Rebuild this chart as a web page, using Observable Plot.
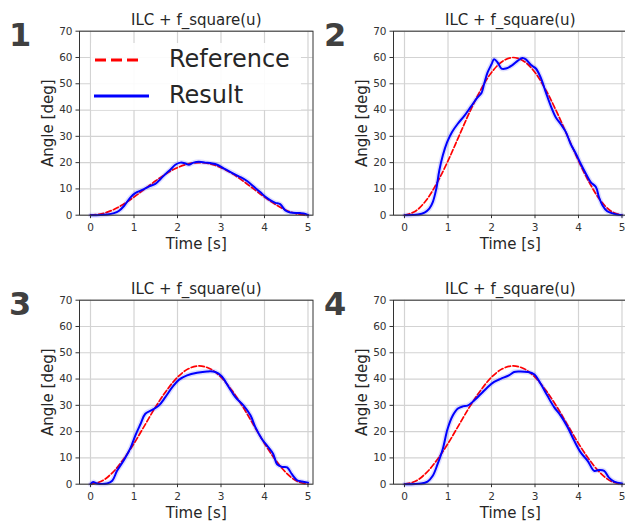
<!DOCTYPE html>
<html><head><meta charset="utf-8">
<script src="https://cdn.jsdelivr.net/npm/d3@7"></script>
<script src="https://cdn.jsdelivr.net/npm/@observablehq/plot@0.6"></script>
<style>
html,body{margin:0;padding:0;background:#fff;overflow:hidden}
#root{position:relative;width:625px;height:525px;overflow:hidden;font-family:"DejaVu Sans",sans-serif}
.panel{position:absolute}
#overlay{position:absolute;left:0;top:0;pointer-events:none}
</style></head><body><div id="root"></div>
<script>
// ---- data ----
const titleText = "ILC + f_square(u)";
const xLabel = "Time [s]";
const yLabel = "Angle [deg]";
const panelNumbers = ["1", "2", "3", "4"];
const legendLabels = ["Reference", "Result"];
const xTicks = [0, 1, 2, 3, 4, 5];
const yTicks = [0, 10, 20, 30, 40, 50, 60, 70];

const refTime = [0, 0.25, 0.5, 0.75, 1, 1.25, 1.5, 1.75, 2, 2.25, 2.5, 2.75, 3, 3.25, 3.5, 3.75, 4, 4.25, 4.5, 4.75, 5];
const ref1 = [0, 0.5, 1.9, 4.1, 6.9, 10, 13.1, 15.9, 18.1, 19.5, 20, 19.5, 18.1, 15.9, 13.1, 10, 6.9, 4.1, 1.9, 0.5, 0];
const ref2 = [0, 1.5, 5.7, 12.4, 20.7, 30, 39.3, 47.6, 54.3, 58.5, 60, 58.5, 54.3, 47.6, 39.3, 30, 20.7, 12.4, 5.7, 1.5, 0];
const ref3 = [0, 1.1, 4.3, 9.3, 15.5, 22.5, 29.5, 35.7, 40.7, 43.9, 45, 43.9, 40.7, 35.7, 29.5, 22.5, 15.5, 9.3, 4.3, 1.1, 0];
const ref4 = [0, 1.1, 4.3, 9.3, 15.5, 22.5, 29.5, 35.7, 40.7, 43.9, 45, 43.9, 40.7, 35.7, 29.5, 22.5, 15.5, 9.3, 4.3, 1.1, 0];

const res1T = [0, 0.38, 0.54, 0.65, 0.77, 0.92, 1.03, 1.19, 1.34, 1.49, 1.61, 1.72, 1.84, 1.95, 2.07, 2.18, 2.26, 2.37, 2.49, 2.64, 2.79, 2.91, 3.06, 3.22, 3.41, 3.6, 3.75, 3.9, 4.02, 4.13, 4.25, 4.36, 4.48, 4.59, 4.82, 4.94, 5.0];
const res1V = [0, 0.3, 0.8, 1.6, 3.5, 6.8, 8.4, 9.6, 10.9, 11.9, 13.8, 15.6, 17.4, 19.2, 20, 19.7, 19.2, 20, 20.3, 20, 19.7, 19.2, 17.8, 16.4, 14.8, 13, 10.9, 8.8, 7, 5.7, 4.7, 4.2, 1.8, 1, 0.8, 0.5, 0];

const res2T = [0, 0.31, 0.46, 0.57, 0.65, 0.73, 0.8, 0.88, 0.98, 1.09, 1.22, 1.38, 1.53, 1.68, 1.77, 1.83, 1.91, 2.0, 2.06, 2.14, 2.23, 2.33, 2.48, 2.6, 2.71, 2.79, 2.91, 3.02, 3.13, 3.25, 3.36, 3.48, 3.59, 3.71, 3.82, 3.94, 4.05, 4.17, 4.28, 4.4, 4.47, 4.55, 4.66, 4.82, 5.0];
const res2V = [0, 0.25, 1, 2.5, 5, 10, 17, 22.7, 27.8, 31.6, 34.7, 37.9, 41.4, 44.8, 46.5, 49.9, 54.3, 57.4, 59.3, 58.1, 55.8, 55.8, 57.1, 58.7, 59.8, 59.3, 57.1, 55.8, 52.4, 46.7, 41.7, 37.2, 34.7, 31.6, 27.1, 23.4, 19.6, 15.8, 12.6, 10.7, 6.9, 3.8, 1.5, 0.5, 0];

const res3T = [0, 0.06, 0.15, 0.38, 0.5, 0.61, 0.77, 0.92, 1.03, 1.15, 1.26, 1.42, 1.57, 1.72, 1.88, 2.03, 2.22, 2.45, 2.68, 2.87, 3.02, 3.18, 3.33, 3.52, 3.68, 3.79, 3.94, 4.1, 4.2, 4.29, 4.4, 4.52, 4.63, 4.75, 4.86, 5.0];
const res3V = [0, 0.8, 0.25, 0.25, 1.3, 5.1, 9.2, 13.8, 18.5, 22.9, 26.8, 28.3, 29.9, 33.1, 36.9, 39.7, 41.4, 42.4, 42.9, 42.7, 41, 36.9, 33.1, 29.9, 26.1, 21.7, 17.2, 13.8, 11.5, 7.6, 6.6, 6.4, 3.8, 1.5, 1, 0.6];

const res4T = [0, 0.38, 0.53, 0.65, 0.76, 0.88, 0.99, 1.11, 1.22, 1.34, 1.45, 1.6, 1.76, 1.91, 2.06, 2.21, 2.4, 2.52, 2.63, 2.83, 2.98, 3.13, 3.28, 3.44, 3.59, 3.75, 3.9, 4.05, 4.21, 4.36, 4.47, 4.59, 4.7, 4.82, 5.0];
const res4V = [0, 0.25, 1, 3.2, 7.6, 13.4, 21, 26.1, 28.7, 29.6, 29.9, 31.8, 34.4, 36.9, 38.9, 40.1, 41.4, 42.7, 42.9, 42.7, 41.8, 38.2, 33.8, 29.3, 26.1, 21.7, 16.6, 12.1, 8.9, 5.1, 5.4, 5.1, 2.5, 1, 0.25];

// ---- layout ----
const panels = [
  {ref: ref1, resT: res1T, resV: res1V, left: 0, top: 0},
  {ref: ref2, resT: res2T, resV: res2V, left: 313.5, top: 0},
  {ref: ref3, resT: res3T, resV: res3V, left: 0, top: 268.6},
  {ref: ref4, resT: res4T, resV: res4V, left: 313.5, top: 268.6}
];
const REF_COLOR = "#ff0000", RES_COLOR = "#0000ff";
const FONT = "DejaVu Sans";

const root = document.getElementById("root");

function makePanel(p) {
  const refData = refTime.map((t, i) => ({t, v: p.ref[i]}));
  const resData = p.resT.map((t, i) => ({t, v: p.resV[i]}));
  const chart = Plot.plot({
    width: 316, height: 260,
    marginLeft: 79, marginRight: 3.5, marginTop: 30.7, marginBottom: 45.3,
    style: {fontFamily: FONT, fontSize: "10px", color: "#333", background: "transparent", overflow: "visible"},
    x: {domain: [-0.253, 5.115]},
    y: {domain: [0, 70]},
    marks: [
      Plot.gridX(xTicks, {stroke: "#d3d3d3", strokeOpacity: 1, strokeWidth: 1.2}),
      Plot.gridY(yTicks, {stroke: "#d3d3d3", strokeOpacity: 1, strokeWidth: 1.2}),
      Plot.line(refData, {x: "t", y: "v", stroke: REF_COLOR, strokeWidth: 1.7, strokeDasharray: "5.5,2.4", curve: "catmull-rom"}),
      Plot.line(resData, {x: "t", y: "v", stroke: RES_COLOR, strokeOpacity: 0.13, strokeWidth: 5, curve: "catmull-rom"}),
      Plot.line(resData, {x: "t", y: "v", stroke: RES_COLOR, strokeWidth: 2, curve: "catmull-rom"}),
      Plot.frame({stroke: "#333", strokeWidth: 1}),
      Plot.axisX({ticks: xTicks, tickFormat: d => String(d), tickSize: 3.5, tickPadding: 5, label: null, stroke: "#333", fill: "#333", fontSize: 10.5}),
      Plot.axisY({ticks: yTicks, tickFormat: d => String(d), tickSize: 3.5, tickPadding: 3.5, label: null, stroke: "#333", fill: "#333", fontSize: 10.5}),
      Plot.text([xLabel], {frameAnchor: "bottom", lineAnchor: "bottom", textAnchor: "middle", dy: 33.3, fontSize: 15, fill: "#262626"}),
      Plot.text([yLabel], {frameAnchor: "left", lineAnchor: "top", textAnchor: "middle", rotate: -90, dx: -37, fontSize: 15, fill: "#262626"}),
      Plot.text([titleText], {frameAnchor: "top", lineAnchor: "bottom", textAnchor: "middle", dy: -6.7, fontSize: 15, fill: "#262626"})
    ]
  });
  chart.classList.add("panel");
  chart.style.left = p.left + "px";
  chart.style.top = p.top + "px";
  root.appendChild(chart);
}
panels.forEach(makePanel);

// ---- overlay: panel numbers and legend ----
const ns = "http://www.w3.org/2000/svg";
const svg = document.createElementNS(ns, "svg");
svg.setAttribute("id", "overlay");
svg.setAttribute("width", 625);
svg.setAttribute("height", 525);
function el(name, attrs, text) {
  const e = document.createElementNS(ns, name);
  for (const k in attrs) e.setAttribute(k, attrs[k]);
  if (text != null) e.textContent = text;
  svg.appendChild(e);
  return e;
}
const numPos = [[9, 46], [324, 46], [9, 315], [324, 315]];
panelNumbers.forEach((n, i) => el("text", {x: numPos[i][0], y: numPos[i][1], "font-family": FONT, "font-weight": "bold", "font-size": 32, fill: "#404040"}, n));

// legend in panel 1
el("rect", {x: 91, y: 43, width: 210, height: 67, fill: "#fff", "fill-opacity": 0.9});
el("line", {x1: 95, x2: 142, y1: 60, y2: 60, stroke: REF_COLOR, "stroke-width": 3, "stroke-dasharray": "11,5"});
el("line", {x1: 94, x2: 149, y1: 96, y2: 96, stroke: RES_COLOR, "stroke-width": 3});
el("text", {x: 169, y: 67, "font-family": FONT, "font-size": 24, fill: "#262626"}, legendLabels[0]);
el("text", {x: 169, y: 103, "font-family": FONT, "font-size": 24, fill: "#262626"}, legendLabels[1]);
root.appendChild(svg);
</script>
</body></html>
